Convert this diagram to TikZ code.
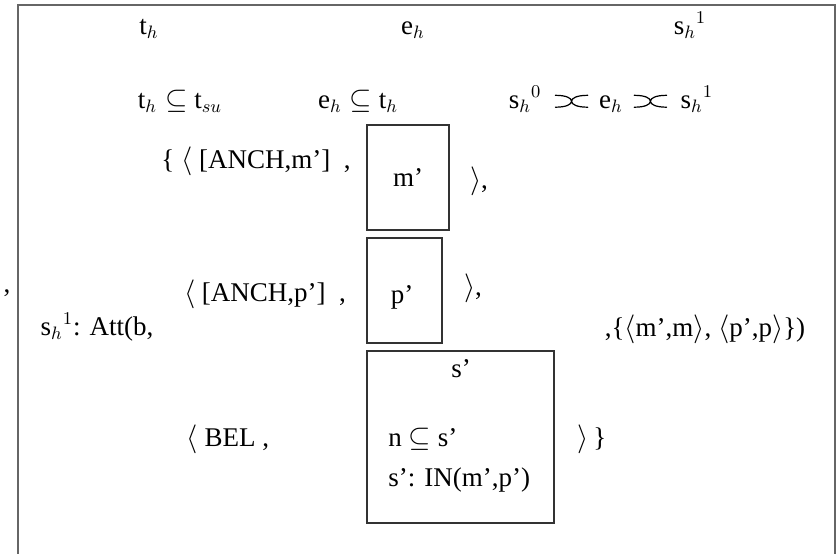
\documentclass[tikz,border=0pt]{standalone}
\usepackage{fontspec}
\setmainfont{Liberation Serif}
\newcommand{\mybtw}{\tikz[x=1em,y=1em,baseline=-0.25em]{\draw[line width=0.045em,line cap=round]
  (0,0.22) .. controls (0.4,0.22) and (0.6,0.12) .. (0.6,0) .. controls (0.6,-0.12) and (0.4,-0.22) .. (0,-0.22)
  (1.2,0.22) .. controls (0.8,0.22) and (0.6,0.12) .. (0.6,0) .. controls (0.6,-0.12) and (0.8,-0.22) .. (1.2,-0.22);}}
\begin{document}
\begin{tikzpicture}[x=0.5pt,y=-0.5pt,
  every node/.style={inner sep=0pt,font=\fontsize{13.5}{16}\selectfont},
  txt/.style={anchor=base},
  ltxt/.style={anchor=base west},
  frameline/.style={draw=black!60,line width=1.1pt},
  box/.style={draw=black!80,line width=0.75pt}]
\useasboundingbox (0,0) rectangle (837,553);
\draw[frameline] (18,558) -- (18,5) -- (835,5) -- (835,558);
% boxes
\node[box,minimum width=41pt,minimum height=52.5pt] (mbox) at (408,177.5) {};
\node[box,minimum width=37.5pt,minimum height=52.5pt] (pbox) at (404.5,290.5) {};
\node[box,minimum width=93.5pt,minimum height=86pt] (sbox) at (460.5,437) {};
% top rows
\node[txt] (th) at (149,34) {t$_h$};
\node[txt] (eh) at (413,34) {e$_h$};
\node[txt] (sh) at (690,34) {s$_h{}^1$};
\node[txt] (ra) at (180,108) {t$_h \subseteq$ t$_{su}$};
\node[txt] (rb) at (358,108) {e$_h \subseteq$ t$_h$};
\node[txt] (rc) at (611,108) {s$_h{}^0$\hspace{0.5em}\mybtw\hspace{0.4em}e$_h$\hspace{0.4em}\mybtw\hspace{0.5em}s$_h{}^1$};
% anchors
\node[txt] (anch1) at (256,168) {\{ $\langle$\ [ANCH,m']\ \ ,};
\node[txt] (mtxt) at (408,186) {m'};
\node[txt] (close1) at (479,188) {$\rangle$,};
\node[txt] (stray) at (7,292) {,};
\node[txt] (anch2) at (265,301) {$\langle$\ [ANCH,p']\ \ ,};
\node[txt] (ptxt) at (402,303) {p'};
\node[txt] (close2) at (473,295) {$\rangle$,};
\node[txt] (att) at (97,335) {s$_h{}^1$: Att(b,};
\node[txt] (pairs) at (705,336) {,\{$\langle$m',m$\rangle$, $\langle$p',p$\rangle$\})};
% belief
\node[txt] (stxt) at (461,377) {s'};
\node[txt] (bel) at (228,446) {$\langle$\ BEL\ ,};
\node[ltxt] (ntxt) at (388,446) {n $\subseteq$ s'};
\node[ltxt] (intxt) at (388,486) {s': IN(m',p')};
\node[txt] (close3) at (592,446) {$\rangle$\,\}};
\end{tikzpicture}
\end{document}
